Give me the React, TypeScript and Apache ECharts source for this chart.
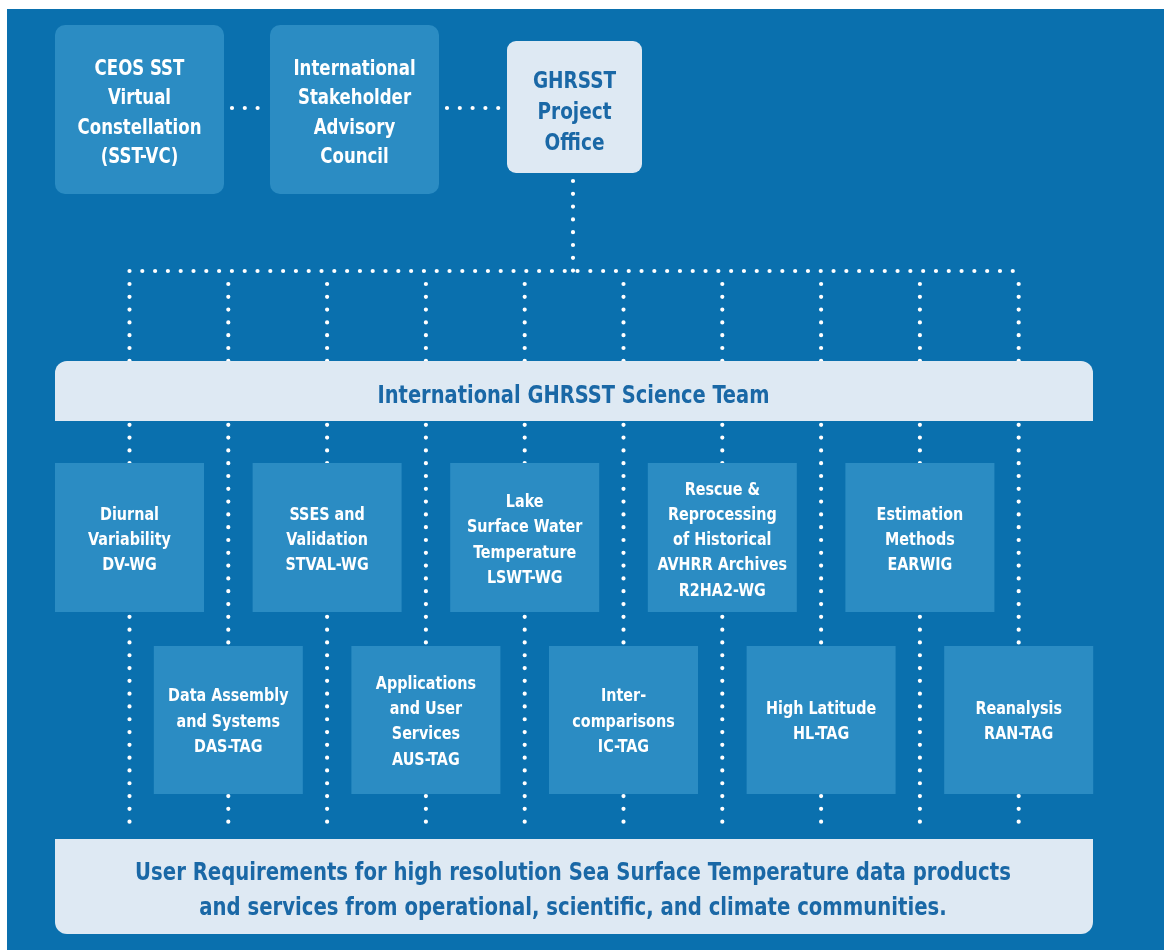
import React, { useEffect, useRef } from "react";
import * as echarts from "echarts";

// ---- diagram content ----
const topBoxLabels = [
  "CEOS SST\nVirtual\nConstellation\n(SST-VC)",
  "International\nStakeholder\nAdvisory\nCouncil",
];
const projectOfficeLabel = "GHRSST\nProject\nOffice";
const scienceTeamLabel = "International GHRSST Science Team";
const workingGroups = [
  "Diurnal\nVariability\nDV-WG",
  "SSES and\nValidation\nSTVAL-WG",
  "Lake\nSurface Water\nTemperature\nLSWT-WG",
  "Rescue &\nReprocessing\nof Historical\nAVHRR Archives\nR2HA2-WG",
  "Estimation\nMethods\nEARWIG",
];
const taskGroups = [
  "Data Assembly\nand Systems\nDAS-TAG",
  "Applications\nand User\nServices\nAUS-TAG",
  "Inter-\ncomparisons\nIC-TAG",
  "High Latitude\nHL-TAG",
  "Reanalysis\nRAN-TAG",
];
const userRequirementsLabel =
  "User Requirements for high resolution Sea Surface Temperature data products\nand services from operational, scientific, and climate communities.";

// ---- styles ----
const BG = "#0a70ae";
const BOX = "#2b8cc3";
const LIGHT = "#dee9f3";
const DARK_TEXT = "#1a68a6";
const FONT = "'DejaVu Sans Condensed', 'DejaVu Sans', sans-serif";

function dotted(x1: number, y1: number, x2: number, y2: number, z = 1): any {
  return {
    type: "line",
    z,
    shape: { x1, y1, x2, y2 },
    style: {
      stroke: "#ffffff",
      lineWidth: 4.2,
      lineDash: [0.001, 12.8],
      lineCap: "round",
    },
  };
}

function label(text: string, x: number, y: number, size: number, lh: number, color: string, sx: number, z = 10): any {
  return {
    type: "text",
    z,
    x,
    y,
    scaleX: sx,
    style: {
      text,
      fill: color,
      align: "center",
      verticalAlign: "middle",
      font: `bold ${size}px ${FONT}`,
      lineHeight: lh,
    },
  };
}

export default function App() {
  const ref = useRef<HTMLDivElement>(null);
  useEffect(() => {
    if (!ref.current) return;
    const chart = echarts.init(ref.current, undefined, { renderer: "svg" });
    const els: any[] = [];

    // background
    els.push({ type: "rect", z: 0, shape: { x: 7, y: 9, width: 1157, height: 941 }, style: { fill: BG } });

    // top boxes
    const topX = [55, 270];
    topBoxLabels.forEach((t, i) => {
      els.push({ type: "rect", z: 5, shape: { x: topX[i], y: 25, width: 169, height: 169, r: 10 }, style: { fill: BOX } });
      els.push(label(t, topX[i] + 84.5, 112, 20.5, 29.5, "#ffffff", 0.9));
    });
    // project office
    els.push({ type: "rect", z: 5, shape: { x: 507, y: 41, width: 135, height: 132, r: 9 }, style: { fill: LIGHT } });
    els.push(label(projectOfficeLabel, 574.5, 111, 22.6, 31, DARK_TEXT, 0.91));

    // top dotted connectors
    els.push(dotted(232, 108, 262, 108));
    els.push(dotted(447, 108, 500, 108));
    // project office down
    els.push(dotted(573, 181, 573, 271));
    // horizontal distribution line
    const colX = (i: number) => 129.5 + i * 98.8;
    els.push(dotted(colX(0), 271, colX(9) + 2, 271));
    // vertical column lines
    for (let i = 0; i < 10; i++) {
      els.push(dotted(colX(i), 284, colX(i), 834));
    }

    // science team bar
    els.push({ type: "rect", z: 5, shape: { x: 55, y: 361, width: 1038, height: 60, r: [12, 12, 0, 0] }, style: { fill: LIGHT } });
    els.push(label(scienceTeamLabel, 573.5, 394, 24.7, 30, DARK_TEXT, 0.876));

    // working groups row
    workingGroups.forEach((t, k) => {
      const cx = colX(k * 2);
      els.push({ type: "rect", z: 5, shape: { x: cx - 74.5, y: 463, width: 149, height: 149 }, style: { fill: BOX } });
      els.push(label(t, cx, 539.5, 16.8, 25.3, "#ffffff", 0.95));
    });
    // task groups row
    taskGroups.forEach((t, k) => {
      const cx = colX(k * 2 + 1);
      els.push({ type: "rect", z: 5, shape: { x: cx - 74.5, y: 646, width: 149, height: 148 }, style: { fill: BOX } });
      els.push(label(t, cx, 721, 16.8, 25.3, "#ffffff", 0.95));
    });

    // user requirements panel
    els.push({ type: "rect", z: 5, shape: { x: 55, y: 839, width: 1038, height: 95, r: [0, 0, 12, 12] }, style: { fill: LIGHT } });
    els.push(label(userRequirementsLabel, 573, 889.5, 24.3, 35, DARK_TEXT, 0.9));

    chart.setOption({ animation: false, graphic: { elements: els } });
    return () => chart.dispose();
  }, []);
  return <div ref={ref} style={{ position: "fixed", left: 0, top: 0, width: 1164, height: 950 }} />;
}
